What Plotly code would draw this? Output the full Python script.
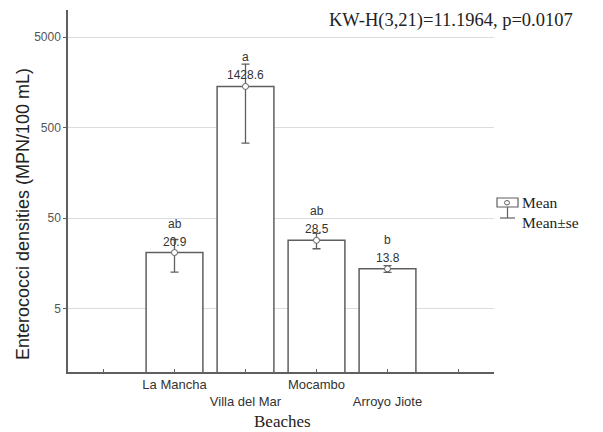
import math
import plotly.graph_objects as go

# ---- data ----
beaches = ["La Mancha", "Villa del Mar", "Mocambo", "Arroyo Jiote"]
means = [20.9, 1428.6, 28.5, 13.8]
se = [8.2, 1090.0, 5.5, 1.2]
letters = ["ab", "a", "ab", "b"]
value_labels = ["20.9", "1428.6", "28.5", "13.8"]
y_ticks = [5, 50, 500, 5000]
y_tick_text = ["5", "50", "500", "5000"]
stat_text = "KW-H(3,21)=11.1964, p=0.0107"

W, H = 603, 432
L, R, T, B = 68, 109, 10, 60
PW, PH = W - L - R, H - T - B


def px(x):
    return (x - L) / PW


def py(y):
    return (H - B - y) / PH


xpos = [1, 2, 3, 4]
GRAY = "#5f5f5f"
SANS = "Liberation Sans, Arial, sans-serif"
SERIF = "Liberation Serif, Times New Roman, serif"

fig = go.Figure()
fig.add_trace(go.Bar(
    x=xpos, y=means, width=0.8,
    marker=dict(color="white", line=dict(color=GRAY, width=1.5)),
    error_y=dict(type="data", array=se, visible=True, color=GRAY, thickness=1.3, width=4),
    showlegend=False,
))
fig.add_trace(go.Scatter(
    x=xpos, y=means, mode="markers",
    marker=dict(symbol="circle", size=6, color="white", line=dict(color=GRAY, width=1)),
    showlegend=False,
))

annotations = []
for xi, m, lt, vl in zip(xpos, means, letters, value_labels):
    annotations.append(dict(x=xi, y=math.log10(m), xref="x", yref="y", text=vl, showarrow=False,
                            xanchor="center", yanchor="middle",
                            yshift=11, font=dict(family=SANS, size=12, color="#333")))
    annotations.append(dict(x=xi, y=math.log10(m), xref="x", yref="y", text=lt, showarrow=False,
                            xanchor="center", yanchor="middle",
                            yshift=29, font=dict(family=SANS, size=12, color="#333")))


def txt(x, y, text, font, xanchor="center", angle=0):
    return dict(x=px(x), y=py(y), xref="paper", yref="paper", text=text, showarrow=False,
                xanchor=xanchor, yanchor="middle", textangle=angle, font=font)


annotations.append(txt(23, 214, "Enterococci densities (MPN/100 mL)",
                       dict(family=SANS, size=18, color="#222"), angle=-90))
annotations.append(txt(282, 421, "Beaches", dict(family=SERIF, size=17, color="#222")))
annotations.append(txt(451, 20, stat_text, dict(family=SERIF, size=18.5, color="#222")))
annotations.append(txt(520, 202, "Mean", dict(family=SERIF, size=15.5, color="#222"), xanchor="left"))
annotations.append(txt(520, 222, "Mean±se", dict(family=SERIF, size=15.5, color="#222"), xanchor="left"))

shapes = [
    dict(type="rect", xref="paper", yref="paper", x0=px(497), x1=px(518), y0=py(207), y1=py(198),
         line=dict(color=GRAY, width=1.2), fillcolor="white"),
    dict(type="circle", xref="paper", yref="paper", x0=px(504.5), x1=px(509.5), y0=py(205), y1=py(200.5),
         line=dict(color=GRAY, width=1), fillcolor="white"),
    dict(type="line", xref="paper", yref="paper", x0=px(507.5), x1=px(507.5), y0=py(207), y1=py(218),
         line=dict(color=GRAY, width=1.2)),
    dict(type="line", xref="paper", yref="paper", x0=px(500), x1=px(515), y0=py(218), y1=py(218),
         line=dict(color=GRAY, width=1.2)),
]

fig.update_layout(
    width=W, height=H,
    margin=dict(l=L, r=R, t=T, b=B),
    paper_bgcolor="white", plot_bgcolor="white",
    annotations=annotations, shapes=shapes,
    bargap=0.2,
)
fig.update_xaxes(
    range=[-0.5, 5.5],
    tickmode="array", tickvals=[0, 1, 2, 3, 4, 5],
    ticktext=["", beaches[0], "<br>" + beaches[1], beaches[2], "<br>" + beaches[3], ""],
    ticks="inside", ticklen=3, tickcolor=GRAY,
    showline=True, linecolor=GRAY, linewidth=1.5,
    showgrid=False, zeroline=False,
    tickfont=dict(family=SANS, size=13, color="#333"),
)
fig.update_yaxes(
    type="log", range=[0, 4],
    tickmode="array", tickvals=y_ticks, ticktext=y_tick_text,
    ticks="outside", ticklen=3, tickcolor=GRAY,
    showline=True, linecolor=GRAY, linewidth=1.5,
    showgrid=True, gridcolor="#dcdcdc", gridwidth=1,
    zeroline=False,
    tickfont=dict(family=SANS, size=12, color="#555"),
)

fig.write_html("out.html", config={"displayModeBar": False},
               post_script="document.body.style.margin='0';document.body.style.overflow='hidden';")
